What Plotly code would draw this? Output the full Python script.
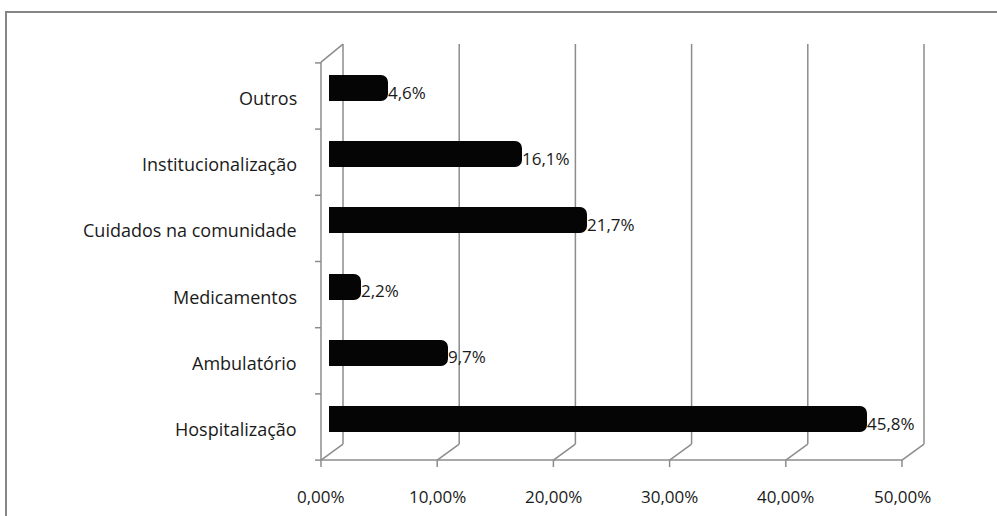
import plotly.graph_objects as go

# ---- data ----
categories = ["Hospitalização", "Ambulatório", "Medicamentos",
              "Cuidados na comunidade", "Institucionalização", "Outros"]
values = [45.8, 9.7, 2.2, 21.7, 16.1, 4.6]
tick_values = [0, 10, 20, 30, 40, 50]
tick_labels = ["0,00%", "10,00%", "20,00%", "30,00%", "40,00%", "50,00%"]

# ---- layout geometry (pixels) ----
W, H = 997, 516
L, R, T, B = 300, 950, 30, 470
PX_PER_UNIT = 11.62
ZERO_PX = 332
CAT0_PX = 419
CAT_STEP = 66.2
x_range = [(L - ZERO_PX) / PX_PER_UNIT, (R - ZERO_PX) / PX_PER_UNIT]
y_range = [(CAT0_PX - B) / CAT_STEP, (CAT0_PX - T) / CAT_STEP]

DX, DY = 11, 8          # perspective half-depth offsets
GRID = "#8c8c8c"
TXT = "#1a1a1a"
FONT = "Open Sans"

fig = go.Figure()
fig.add_trace(go.Bar(
    y=list(range(len(categories))), x=values, orientation="h",
    width=0.30,
    marker=dict(color="#050505", line=dict(width=6, color="#050505"),
                cornerradius=4),
    hoverinfo="skip",
))

shapes = []
def seg(xa, x0, x1, ya, y0, y1, width=1.5, color=GRID):
    shapes.append(dict(type="line", xref="x", yref="y",
                       xsizemode="pixel", xanchor=xa, x0=x0, x1=x1,
                       ysizemode="pixel", yanchor=ya, y0=y0, y1=y1,
                       line=dict(color=color, width=width), layer="below"))

floor = -0.5
for v in tick_values:
    # back wall gridline
    seg(v, DX, DX, floor, DY, DY + 400)
    # floor diagonal
    seg(v, DX, -DX, floor, DY, -DY)
    # front tick mark
    seg(v, -DX, -DX, floor, -DY, -DY - 7)
# front floor edge
seg(0, -DX, -DX + tick_values[-1] * PX_PER_UNIT, floor, -DY, -DY)
# left wall front edge and top diagonal
seg(0, -DX, -DX, floor, -DY, -DY + 398)
seg(0, -DX, DX, floor, -DY + 398, DY + 400)
# left category ticks
for k in range(len(categories) + 1):
    seg(0, -DX, -DX - 6, k - 0.5, -DY, -DY)

# outer frame
def px2paper_x(px):
    return (px - L) / (R - L)
def px2paper_y(py):
    return (B - py) / (B - T)
shapes.append(dict(type="rect", xref="paper", yref="paper",
                   x0=px2paper_x(6), x1=px2paper_x(1005),
                   y0=px2paper_y(525), y1=px2paper_y(12),
                   line=dict(color="#868686", width=2), layer="below"))

annotations = []
for i, c in enumerate(categories):
    annotations.append(dict(x=0, y=i, xref="x", yref="y", text=c,
                            showarrow=False, xanchor="right", yanchor="middle",
                            xshift=-33, yshift=-10,
                            font=dict(family=FONT, size=18, color=TXT)))
for i, v in enumerate(values):
    annotations.append(dict(x=v, y=i, xref="x", yref="y",
                            text=f"{v:.1f}".replace(".", ",") + "%",
                            showarrow=False, xanchor="left", yanchor="middle",
                            xshift=1, yshift=-4,
                            font=dict(family=FONT, size=17, color=TXT)))
for v, t in zip(tick_values, tick_labels):
    annotations.append(dict(x=v, y=floor, xref="x", yref="y", text=t,
                            showarrow=False, xanchor="center", yanchor="middle",
                            xshift=-DX, yshift=-44,
                            font=dict(family=FONT, size=17, color=TXT)))

fig.update_layout(
    width=W, height=H,
    margin=dict(l=L, r=W - R, t=T, b=H - B),
    paper_bgcolor="white", plot_bgcolor="white",
    separators=",.",
    showlegend=False,
    xaxis=dict(range=x_range, showgrid=False, zeroline=False,
               showticklabels=False, showline=False, fixedrange=True),
    yaxis=dict(range=y_range, showgrid=False, zeroline=False,
               showticklabels=False, showline=False, fixedrange=True),
    shapes=shapes, annotations=annotations,
    bargap=0,
)

fig.write_html("out.html")
